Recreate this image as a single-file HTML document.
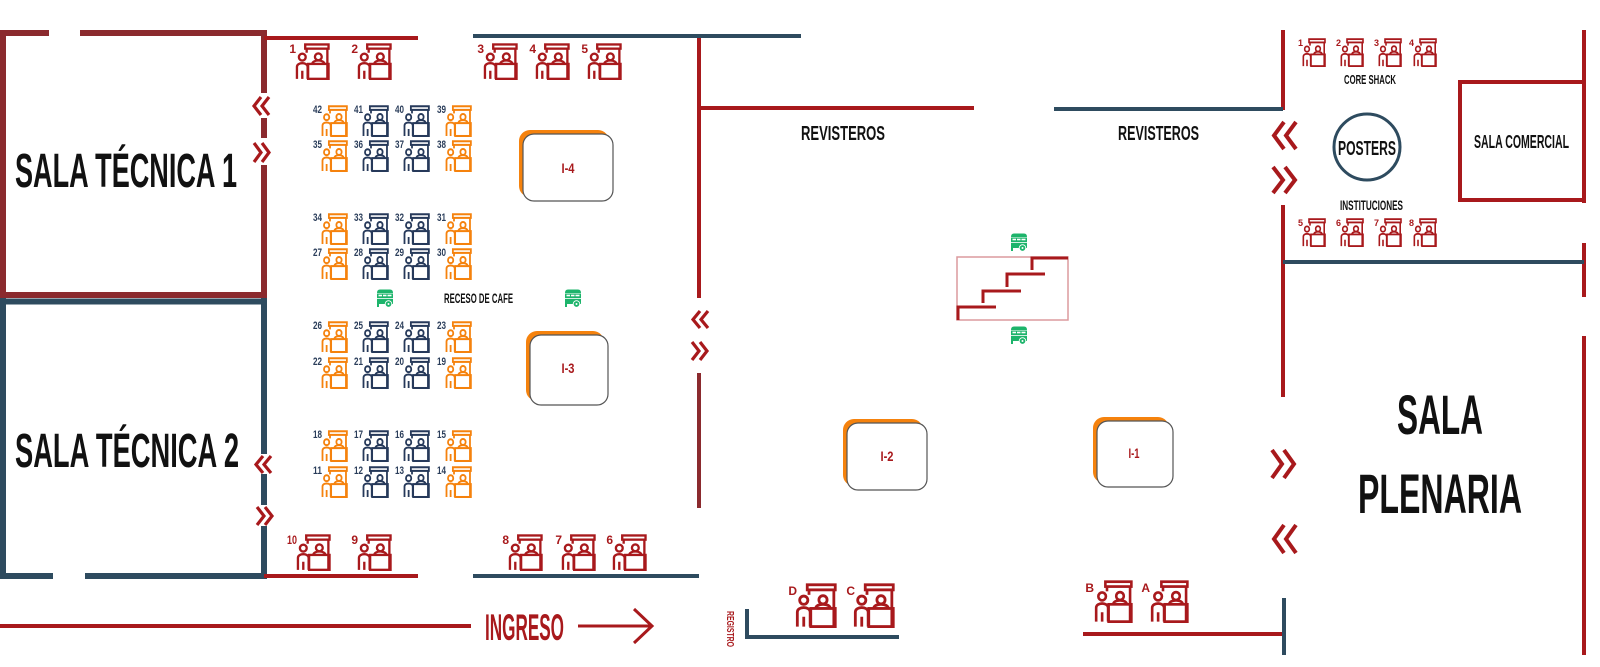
<!DOCTYPE html>
<html><head><meta charset="utf-8"><style>
html,body{margin:0;padding:0;background:#fff;}
svg{display:block;}
text{font-family:"Liberation Sans Narrow","Liberation Sans",Arial,sans-serif;font-weight:bold;}
</style></head><body>
<svg width="1600" height="667" viewBox="0 0 1600 667" xmlns="http://www.w3.org/2000/svg" xmlns:xlink="http://www.w3.org/1999/xlink">
<defs>
<symbol id="booth" viewBox="0 0 36 38" preserveAspectRatio="none">
<g fill="none" stroke="currentColor" stroke-width="2.4">
<rect x="10.5" y="1.5" width="24" height="4.3"/>
<line x1="33.3" y1="5.8" x2="33.3" y2="36.8"/>
<line x1="12" y1="5.8" x2="12" y2="10"/>
<rect x="13.5" y="21.5" width="21" height="15.3"/>
<circle cx="24" cy="14.2" r="3.5"/>
<path d="M17.8 21.5 C17.8 16.8 30.2 16.8 30.2 21.5"/>
<circle cx="7.5" cy="14.5" r="3.5"/>
<path d="M2 36.8 V24.5 C2 19.5 13 19.5 13 24.5 V36.8 M7.5 28.5 V36.8"/>
</g>
</symbol>
<symbol id="cart" viewBox="0 0 18 19">
<path d="M1 4 Q1 0.5 4 0.5 H14 Q17 0.5 17 4 Z" fill="#1db46b"/>
<rect x="1" y="4.5" width="16" height="4.5" fill="#1db46b"/>
<rect x="2.5" y="5.7" width="3.5" height="1.6" fill="#fff"/>
<rect x="7" y="5.7" width="3.5" height="1.6" fill="#fff"/>
<rect x="11.5" y="5.7" width="4" height="1.6" fill="#fff"/>
<rect x="1" y="9.8" width="16" height="5.2" fill="#1db46b"/>
<rect x="1" y="15" width="2" height="3" fill="#1db46b"/>
<circle cx="12.5" cy="15" r="3.3" fill="#1db46b" stroke="#fff" stroke-width="0.9"/>
<circle cx="12.5" cy="15" r="1" fill="#fff"/>
</symbol>
</defs>

<!-- Sala Tecnica 1 (dark red) -->
<g stroke="#8b2a2e" stroke-width="6" fill="none">
<line x1="0" y1="33" x2="49" y2="33"/>
<line x1="80" y1="33" x2="267" y2="33"/>
<line x1="3" y1="30" x2="3" y2="298"/>
<line x1="0" y1="295" x2="267" y2="295"/>
<line x1="264" y1="30" x2="264" y2="93"/>
<line x1="264" y1="118" x2="264" y2="138"/>
<line x1="264" y1="165" x2="264" y2="298"/>
</g>
<!-- Sala Tecnica 2 (blue) -->
<g stroke="#2e4b5f" stroke-width="6" fill="none">
<line x1="0" y1="301.5" x2="267" y2="301.5"/>
<line x1="3" y1="298" x2="3" y2="579"/>
<line x1="0" y1="576" x2="53" y2="576"/>
<line x1="85" y1="576" x2="267" y2="576"/>
<line x1="264" y1="298" x2="264" y2="454"/>
<line x1="264" y1="474" x2="264" y2="505"/>
<line x1="264" y1="526" x2="264" y2="579"/>
</g>

<!-- other walls -->
<g stroke="#a8191c" stroke-width="4" fill="none">
<line x1="264" y1="38" x2="418" y2="38"/>
<line x1="264" y1="576" x2="418" y2="576"/>
<line x1="699" y1="36" x2="699" y2="298"/>
<line x1="699" y1="108" x2="974" y2="108"/>
<line x1="1283" y1="30" x2="1283" y2="110"/>
<line x1="1283" y1="205" x2="1283" y2="397"/>
<line x1="1584" y1="30" x2="1584" y2="203"/>
<line x1="1584" y1="243" x2="1584" y2="297"/>
<line x1="1584" y1="336" x2="1584" y2="655"/>
<line x1="1083" y1="634" x2="1284" y2="634"/>
<rect x="1460" y="82" width="124" height="118"/>
<line x1="0" y1="626" x2="471" y2="626"/>
</g>
<line x1="699" y1="373" x2="699" y2="508" stroke="#8b2a2e" stroke-width="4"/>
<g stroke="#2e4b5f" stroke-width="4" fill="none">
<line x1="473" y1="36" x2="801" y2="36"/>
<line x1="473" y1="576" x2="699" y2="576"/>
<line x1="1054" y1="109" x2="1283" y2="109"/>
<line x1="1283" y1="262" x2="1584" y2="262"/>
<line x1="1284" y1="598" x2="1284" y2="655"/>
<polyline points="747,609 747,637 899,637"/>
</g>
<circle cx="1367" cy="147" r="33" fill="none" stroke="#2e4b5f" stroke-width="3"/>

<!-- ingreso arrow -->
<g stroke="#a8191c" stroke-width="3" fill="none">
<line x1="578" y1="626" x2="651" y2="626"/>
<polyline points="634,609 652,626 634,643"/>
</g>

<!-- chevrons -->
<g stroke="#a8191c" stroke-width="3.2" fill="none" stroke-linejoin="miter">
<path d="M261 97 L254 106 L261 115 M269 97 L262 106 L269 115"/>
<path d="M254 143 L261 152.5 L254 162 M262 143 L269 152.5 L262 162"/>
<path d="M263 456 L256 464.5 L263 473 M271 456 L264 464.5 L271 473"/>
<path d="M257 507 L264 516 L257 525 M265 507 L272 516 L265 525"/>
<path d="M700 311 L693 319.5 L700 328 M708 311 L701 319.5 L708 328"/>
<path d="M692 342 L699 351 L692 360 M700 342 L707 351 L700 360"/>
</g>
<g stroke="#a8191c" stroke-width="4" fill="none">
<path d="M1284 122 L1274 135.5 L1284 149 M1296 122 L1286 135.5 L1296 149"/>
<path d="M1273 167 L1283 180 L1273 193 M1285 167 L1295 180 L1285 193"/>
<path d="M1272 450 L1282 464 L1272 478 M1284 450 L1294 464 L1284 478"/>
<path d="M1284 525 L1274 539 L1284 553 M1296 525 L1286 539 L1296 553"/>
</g>

<!-- stairs -->
<rect x="957" y="257" width="111" height="63" fill="none" stroke="#dc9a9d" stroke-width="1.5"/>
<g stroke="#a8191c" stroke-width="3" fill="none">
<polyline points="958,320 958,307 996,307"/>
<polyline points="983,303 983,291 1021,291"/>
<polyline points="1007,287 1007,274 1045,274"/>
<polyline points="1032,270 1032,258 1068,258"/>
</g>

<!-- carts -->
<use xlink:href="#cart" href="#cart" x="376" y="289" width="18" height="19"/>
<use xlink:href="#cart" href="#cart" x="564" y="289" width="18" height="19"/>
<use xlink:href="#cart" href="#cart" x="1010" y="233" width="18" height="19"/>
<use xlink:href="#cart" href="#cart" x="1010" y="326" width="18" height="19"/>

<!-- I boxes -->
<rect x="519" y="130" width="90" height="67" rx="11" fill="#f5820d"/>
<rect x="523" y="134" width="90" height="67" rx="11" fill="#fff" stroke="#555" stroke-width="1.2"/>
<rect x="526" y="331" width="78" height="70" rx="11" fill="#f5820d"/>
<rect x="530" y="335" width="78" height="70" rx="11" fill="#fff" stroke="#555" stroke-width="1.2"/>
<rect x="843" y="419" width="80" height="67" rx="11" fill="#f5820d"/>
<rect x="847" y="423" width="80" height="67" rx="11" fill="#fff" stroke="#555" stroke-width="1.2"/>
<rect x="1093" y="417" width="76" height="66" rx="11" fill="#f5820d"/>
<rect x="1097" y="421" width="76" height="66" rx="11" fill="#fff" stroke="#555" stroke-width="1.2"/>
<g fill="#a8191c" font-size="14" text-anchor="middle">
<text x="568" y="173" textLength="13" lengthAdjust="spacingAndGlyphs">I-4</text>
<text x="568" y="373" textLength="13" lengthAdjust="spacingAndGlyphs">I-3</text>
<text x="887" y="461" textLength="13" lengthAdjust="spacingAndGlyphs">I-2</text>
<text x="1134" y="458" textLength="11" lengthAdjust="spacingAndGlyphs">I-1</text>
</g>

<!-- big red booths -->
<g color="#a8191c">
<use href="#booth" xlink:href="#booth" x="295" y="43" width="35" height="37"/>
<use href="#booth" xlink:href="#booth" x="357" y="43" width="35" height="37"/>
<use href="#booth" xlink:href="#booth" x="483" y="43" width="35" height="37"/>
<use href="#booth" xlink:href="#booth" x="535" y="43" width="35" height="37"/>
<use href="#booth" xlink:href="#booth" x="587" y="43" width="35" height="37"/>
<use href="#booth" xlink:href="#booth" x="296" y="534" width="35" height="37"/>
<use href="#booth" xlink:href="#booth" x="357" y="534" width="35" height="37"/>
<use href="#booth" xlink:href="#booth" x="508" y="534" width="35" height="37"/>
<use href="#booth" xlink:href="#booth" x="561" y="534" width="35" height="37"/>
<use href="#booth" xlink:href="#booth" x="612" y="534" width="35" height="37"/>
<use href="#booth" xlink:href="#booth" x="795" y="583" width="42" height="45"/>
<use href="#booth" xlink:href="#booth" x="853" y="583" width="42" height="45"/>
<use href="#booth" xlink:href="#booth" x="1094" y="580" width="39" height="43"/>
<use href="#booth" xlink:href="#booth" x="1150" y="580" width="39" height="43"/>
<use href="#booth" xlink:href="#booth" x="1302" y="38" width="24" height="29"/>
<use href="#booth" xlink:href="#booth" x="1340" y="38" width="24" height="29"/>
<use href="#booth" xlink:href="#booth" x="1378" y="38" width="24" height="29"/>
<use href="#booth" xlink:href="#booth" x="1413" y="38" width="24" height="29"/>
<use href="#booth" xlink:href="#booth" x="1302" y="218" width="24" height="29"/>
<use href="#booth" xlink:href="#booth" x="1340" y="218" width="24" height="29"/>
<use href="#booth" xlink:href="#booth" x="1378" y="218" width="24" height="29"/>
<use href="#booth" xlink:href="#booth" x="1413" y="218" width="24" height="29"/>
</g>
<g fill="#a8191c" font-size="12" text-anchor="end">
<text x="296" y="53">1</text>
<text x="358" y="53">2</text>
<text x="484" y="53">3</text>
<text x="536" y="53">4</text>
<text x="588" y="53">5</text>
<text x="297" y="544" textLength="10" lengthAdjust="spacingAndGlyphs">10</text>
<text x="358" y="544">9</text>
<text x="509" y="544">8</text>
<text x="562" y="544">7</text>
<text x="613" y="544">6</text>
<text x="797" y="595">D</text>
<text x="855" y="595">C</text>
<text x="1094" y="592">B</text>
<text x="1150" y="592">A</text>
</g>
<g fill="#a8191c" font-size="9" text-anchor="end">
<text x="1303" y="46">1</text>
<text x="1341" y="46">2</text>
<text x="1379" y="46">3</text>
<text x="1414" y="46">4</text>
<text x="1303" y="226">5</text>
<text x="1341" y="226">6</text>
<text x="1379" y="226">7</text>
<text x="1414" y="226">8</text>
</g>

<!-- colored booth grid -->
<g>
<g color="#f5820d">
<use href="#booth" xlink:href="#booth" x="321" y="105" width="27" height="32"/>
<use href="#booth" xlink:href="#booth" x="445" y="105" width="27" height="32"/>
<use href="#booth" xlink:href="#booth" x="321" y="140" width="27" height="32"/>
<use href="#booth" xlink:href="#booth" x="445" y="140" width="27" height="32"/>
<use href="#booth" xlink:href="#booth" x="321" y="213" width="27" height="32"/>
<use href="#booth" xlink:href="#booth" x="445" y="213" width="27" height="32"/>
<use href="#booth" xlink:href="#booth" x="321" y="248" width="27" height="32"/>
<use href="#booth" xlink:href="#booth" x="445" y="248" width="27" height="32"/>
<use href="#booth" xlink:href="#booth" x="321" y="321" width="27" height="32"/>
<use href="#booth" xlink:href="#booth" x="445" y="321" width="27" height="32"/>
<use href="#booth" xlink:href="#booth" x="321" y="357" width="27" height="32"/>
<use href="#booth" xlink:href="#booth" x="445" y="357" width="27" height="32"/>
<use href="#booth" xlink:href="#booth" x="321" y="430" width="27" height="32"/>
<use href="#booth" xlink:href="#booth" x="445" y="430" width="27" height="32"/>
<use href="#booth" xlink:href="#booth" x="321" y="466" width="27" height="32"/>
<use href="#booth" xlink:href="#booth" x="445" y="466" width="27" height="32"/>
</g>
<g color="#26395a">
<use href="#booth" xlink:href="#booth" x="362" y="105" width="27" height="32"/>
<use href="#booth" xlink:href="#booth" x="403" y="105" width="27" height="32"/>
<use href="#booth" xlink:href="#booth" x="362" y="140" width="27" height="32"/>
<use href="#booth" xlink:href="#booth" x="403" y="140" width="27" height="32"/>
<use href="#booth" xlink:href="#booth" x="362" y="213" width="27" height="32"/>
<use href="#booth" xlink:href="#booth" x="403" y="213" width="27" height="32"/>
<use href="#booth" xlink:href="#booth" x="362" y="248" width="27" height="32"/>
<use href="#booth" xlink:href="#booth" x="403" y="248" width="27" height="32"/>
<use href="#booth" xlink:href="#booth" x="362" y="321" width="27" height="32"/>
<use href="#booth" xlink:href="#booth" x="403" y="321" width="27" height="32"/>
<use href="#booth" xlink:href="#booth" x="362" y="357" width="27" height="32"/>
<use href="#booth" xlink:href="#booth" x="403" y="357" width="27" height="32"/>
<use href="#booth" xlink:href="#booth" x="362" y="430" width="27" height="32"/>
<use href="#booth" xlink:href="#booth" x="403" y="430" width="27" height="32"/>
<use href="#booth" xlink:href="#booth" x="362" y="466" width="27" height="32"/>
<use href="#booth" xlink:href="#booth" x="403" y="466" width="27" height="32"/>
</g>
<g fill="#2a3d5a" font-size="11" text-anchor="end">
<text x="322" y="113" textLength="9" lengthAdjust="spacingAndGlyphs">42</text>
<text x="363" y="113" textLength="9" lengthAdjust="spacingAndGlyphs">41</text>
<text x="404" y="113" textLength="9" lengthAdjust="spacingAndGlyphs">40</text>
<text x="446" y="113" textLength="9" lengthAdjust="spacingAndGlyphs">39</text>
<text x="322" y="148" textLength="9" lengthAdjust="spacingAndGlyphs">35</text>
<text x="363" y="148" textLength="9" lengthAdjust="spacingAndGlyphs">36</text>
<text x="404" y="148" textLength="9" lengthAdjust="spacingAndGlyphs">37</text>
<text x="446" y="148" textLength="9" lengthAdjust="spacingAndGlyphs">38</text>
<text x="322" y="221" textLength="9" lengthAdjust="spacingAndGlyphs">34</text>
<text x="363" y="221" textLength="9" lengthAdjust="spacingAndGlyphs">33</text>
<text x="404" y="221" textLength="9" lengthAdjust="spacingAndGlyphs">32</text>
<text x="446" y="221" textLength="9" lengthAdjust="spacingAndGlyphs">31</text>
<text x="322" y="256" textLength="9" lengthAdjust="spacingAndGlyphs">27</text>
<text x="363" y="256" textLength="9" lengthAdjust="spacingAndGlyphs">28</text>
<text x="404" y="256" textLength="9" lengthAdjust="spacingAndGlyphs">29</text>
<text x="446" y="256" textLength="9" lengthAdjust="spacingAndGlyphs">30</text>
<text x="322" y="329" textLength="9" lengthAdjust="spacingAndGlyphs">26</text>
<text x="363" y="329" textLength="9" lengthAdjust="spacingAndGlyphs">25</text>
<text x="404" y="329" textLength="9" lengthAdjust="spacingAndGlyphs">24</text>
<text x="446" y="329" textLength="9" lengthAdjust="spacingAndGlyphs">23</text>
<text x="322" y="365" textLength="9" lengthAdjust="spacingAndGlyphs">22</text>
<text x="363" y="365" textLength="9" lengthAdjust="spacingAndGlyphs">21</text>
<text x="404" y="365" textLength="9" lengthAdjust="spacingAndGlyphs">20</text>
<text x="446" y="365" textLength="9" lengthAdjust="spacingAndGlyphs">19</text>
<text x="322" y="438" textLength="9" lengthAdjust="spacingAndGlyphs">18</text>
<text x="363" y="438" textLength="9" lengthAdjust="spacingAndGlyphs">17</text>
<text x="404" y="438" textLength="9" lengthAdjust="spacingAndGlyphs">16</text>
<text x="446" y="438" textLength="9" lengthAdjust="spacingAndGlyphs">15</text>
<text x="322" y="474" textLength="9" lengthAdjust="spacingAndGlyphs">11</text>
<text x="363" y="474" textLength="9" lengthAdjust="spacingAndGlyphs">12</text>
<text x="404" y="474" textLength="9" lengthAdjust="spacingAndGlyphs">13</text>
<text x="446" y="474" textLength="9" lengthAdjust="spacingAndGlyphs">14</text>
</g>
</g>

<!-- labels -->
<g fill="#111">
<text x="15" y="187" font-size="48" textLength="222" lengthAdjust="spacingAndGlyphs">SALA TÉCNICA 1</text>
<text x="15" y="467" font-size="48" textLength="224" lengthAdjust="spacingAndGlyphs">SALA TÉCNICA 2</text>
<text x="801" y="140" font-size="20" textLength="84" lengthAdjust="spacingAndGlyphs">REVISTEROS</text>
<text x="1118" y="140" font-size="20" textLength="81" lengthAdjust="spacingAndGlyphs">REVISTEROS</text>
<text x="1474" y="148" font-size="18" textLength="95" lengthAdjust="spacingAndGlyphs">SALA COMERCIAL</text>
<text x="1338" y="155" font-size="20" textLength="58" lengthAdjust="spacingAndGlyphs">POSTERS</text>
<text x="1344" y="84" font-size="12.5" textLength="52" lengthAdjust="spacingAndGlyphs">CORE SHACK</text>
<text x="1340" y="210" font-size="13.5" textLength="63" lengthAdjust="spacingAndGlyphs">INSTITUCIONES</text>
<text x="444" y="303" font-size="13.5" textLength="69" lengthAdjust="spacingAndGlyphs">RECESO DE CAFE</text>
<text x="1397" y="434" font-size="56" textLength="86" lengthAdjust="spacingAndGlyphs">SALA</text>
<text x="1358" y="513" font-size="56" textLength="164" lengthAdjust="spacingAndGlyphs">PLENARIA</text>
</g>
<text x="485" y="640" font-size="37" fill="#a8191c" textLength="79" lengthAdjust="spacingAndGlyphs">INGRESO</text>
<text transform="translate(727,611) rotate(90)" x="0" y="0" font-size="10" fill="#a8191c" textLength="36" lengthAdjust="spacingAndGlyphs">REGISTRO</text>
</svg>
</body></html>
